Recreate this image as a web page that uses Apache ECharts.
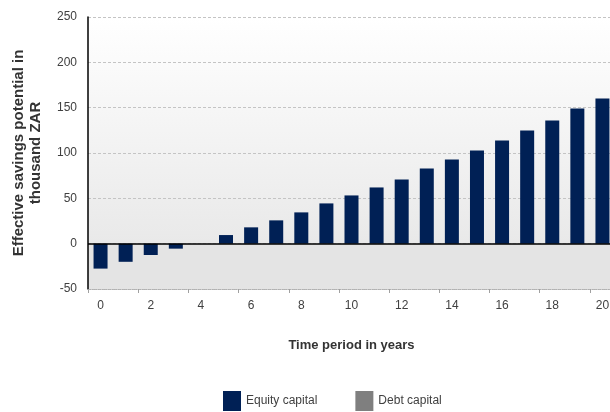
<!DOCTYPE html>
<html>
<head>
    <meta http-equiv="Content-Type" content="text/html; charset=utf-8" />
    <script type="text/javascript" src="https://cdn.jsdelivr.net/npm/echarts@6/dist/echarts.min.js"></script>
</head>
<body style="margin:0;background:#fff;">
    <div id="chartDom" style="width:610px;height:412px;"></div>
    <script type="text/javascript">
        // data
        var years = ['0','1','2','3','4','5','6','7','8','9','10','11','12','13','14','15','16','17','18','19','20'];
        var equityCapital = [-27.5, -20, -12.5, -5.5, 0, 9.5, 18, 25.7, 34.5, 44.4, 53.2, 62, 70.8, 82.9, 92.8, 102.7, 113.8, 124.8, 135.8, 149, 160];
        var debtCapital = [];
        var yTicks = { min: -50, max: 250, step: 50 };

        var font = 'Liberation Sans';
        var txt = '#404040';

        var myChart = echarts.init(document.getElementById("chartDom"));
        var option = {
            animation: false,
            textStyle: { fontFamily: font },
            grid: {
                left: 88, right: -5, top: 17, bottom: 123,
                outerBoundsMode: 'none',
                containLabel: false,
                show: true,
                borderWidth: 0,
                backgroundColor: new echarts.graphic.LinearGradient(0, 0, 0, 1, [
                    { offset: 0, color: '#ffffff' },
                    { offset: 0.83, color: '#e9e9e9' },
                    { offset: 0.835, color: '#e4e4e4' },
                    { offset: 1, color: '#e4e4e4' }
                ])
            },
            legend: {
                left: 223, top: 391, padding: 0,
                itemWidth: 18, itemHeight: 20, itemGap: 38,
                icon: 'rect',
                textStyle: { color: txt, fontSize: 12, fontFamily: font },
                data: ['Equity capital', 'Debt capital']
            },
            xAxis: {
                type: 'category',
                data: years,
                name: 'Time period in years',
                nameLocation: 'middle',
                nameGap: 50,
                nameTextStyle: { color: '#333', fontWeight: 'bold', fontSize: 13, fontFamily: font },
                axisLine: { onZero: false, lineStyle: { color: '#b0b0b0', type: 'dotted', width: 1 } },
                axisTick: { show: true, length: 4, lineStyle: { color: '#a0a0a0' } },
                axisLabel: { interval: 1, color: txt, fontSize: 12, margin: 11 }
            },
            yAxis: {
                type: 'value',
                min: yTicks.min, max: yTicks.max, interval: yTicks.step,
                name: 'Effective savings potential in\nthousand ZAR',
                nameLocation: 'middle',
                nameGap: 44,
                nameTextStyle: { color: '#333', fontWeight: 'bold', fontSize: 15, fontFamily: font, lineHeight: 17 },
                axisLine: { show: true, lineStyle: { color: '#000', width: 1.5 } },
                axisTick: { show: false },
                axisLabel: { color: txt, fontSize: 12, margin: 11 },
                splitLine: { lineStyle: { color: '#c4c4c4', type: [3, 2] } }
            },
            series: [{
                name: 'Equity capital',
                type: 'bar',
                data: equityCapital,
                barWidth: 14,
                itemStyle: { color: '#002055' },
                markLine: {
                    silent: true,
                    symbol: 'none',
                    label: { show: false },
                    lineStyle: { color: '#000', type: 'solid', width: 1.5 },
                    data: [{ yAxis: 0 }]
                }
            }, {
                name: 'Debt capital',
                type: 'bar',
                data: debtCapital,
                barWidth: 14,
                barGap: '-100%',
                itemStyle: { color: '#7f7f7f' }
            }]
        };
        myChart.setOption(option);
        window.onresize = myChart.resize;
    </script>
</body>
</html>
